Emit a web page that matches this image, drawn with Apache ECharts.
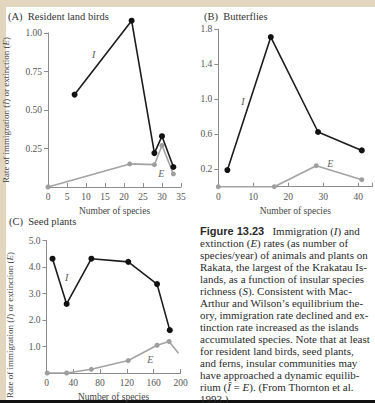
<!DOCTYPE html>
<html><head><meta charset="utf-8">
<script src="https://cdn.jsdelivr.net/npm/echarts@6/dist/echarts.min.js"></script>
<style>
html,body{margin:0;padding:0;background:#e3d6bf;width:375px;height:403px;overflow:hidden;position:relative;}
#paper{position:absolute;left:6px;top:7px;width:369px;height:393px;background:#fff;}
#bar{position:absolute;left:0;top:400px;width:375px;height:3px;background:#111;}
#c{position:absolute;left:0;top:0;width:375px;height:403px;}
</style>
</head><body><div id="paper"></div><div id="bar"></div><div id="c"></div>
<script>
// Panel A: resident land birds
const birdsIx = [7, 22, 28, 30, 33];
const birdsIy = [0.60, 1.08, 0.22, 0.33, 0.13];
const birdsEx = [0, 21.5, 28, 30, 33];
const birdsEy = [0, 0.15, 0.145, 0.27, 0.085];
const birdsYTicks = [0.25, 0.5, 0.75, 1.0];
// Panel B: butterflies
const butterIx = [2.6, 15, 28.5, 41];
const butterIy = [0.19, 1.71, 0.625, 0.415];
const butterEx = [0, 16, 28, 41];
const butterEy = [0, 0, 0.24, 0.08];
const butterYTicks = [0.2, 0.6, 1.0, 1.4, 1.8];
const butterXTicks = [0, 10, 20, 30, 40];
// Panel C: seed plants
const plantsIx = [9, 30, 67, 122, 165, 184];
const plantsIy = [4.32, 2.61, 4.32, 4.2, 3.36, 1.62];
const plantsEx = [1, 30, 67, 122, 165, 183, 197];
const plantsEy = [0, 0, 0.14, 0.47, 1.05, 1.19, 0.75];
const plantsYTicks = [1, 2, 3, 4, 5];

const captionLines = [
  '{b|Figure 13.23}   Immigration ({i|I}) and',
  'extinction ({i|E}) rates (as number of',
  'species/year) of animals and plants on',
  'Rakata, the largest of the Krakatau Is-',
  'lands, as a function of insular species',
  'richness ({i|S}). Consistent with Mac-',
  'Arthur and Wilson\u2019s equilibrium the-',
  'ory, immigration rate declined and ex-',
  'tinction rate increased as the islands',
  'accumulated species. Note that at least',
  'for resident land birds, seed plants,',
  'and ferns, insular communities may',
  'have approached a dynamic equilib-',
  'rium ({i|\u00CE} = {i|E}). (From Thornton et al.',
  '1993.)'
];

const SERIF = '"Liberation Serif", "DejaVu Serif", serif';
const zip = (xs, ys) => xs.map((x, i) => [x, ys[i]]);
const axisCol = '#8c8c8c';
const labelStyle = {fontFamily: SERIF, fontSize: 9.5, color: '#555'};
const italicRich = {i: {fontStyle: 'italic', fontFamily: SERIF, fontSize: 9, color: '#444'}};

function xAxis(gi, min, max, opts) {
  return Object.assign({
    type: 'value', gridIndex: gi, min: min, max: max,
    splitLine: {show: false},
    axisLine: {lineStyle: {color: axisCol, width: 1}},
    axisTick: {inside: true, length: 4, lineStyle: {color: axisCol}},
    axisLabel: Object.assign({margin: 5}, labelStyle),
    name: 'Number of species', nameLocation: 'middle', nameGap: 19,
    nameTextStyle: {fontFamily: SERIF, fontSize: 9.5, color: '#444'}
  }, opts || {});
}
function yAxis(gi, min, max, ticks, fmt, opts) {
  return Object.assign({
    type: 'value', gridIndex: gi, min: min, max: max,
    splitLine: {show: false},
    axisLine: {show: true, lineStyle: {color: axisCol, width: 1}},
    axisTick: {show: true, length: 4, customValues: ticks, lineStyle: {color: axisCol}},
    axisLabel: Object.assign({margin: 6, customValues: ticks, formatter: fmt}, labelStyle)
  }, opts || {});
}
function lineI(xi, yi, data, labelCoord) {
  return {
    type: 'line', xAxisIndex: xi, yAxisIndex: yi, data: data, clip: false,
    symbol: 'circle', symbolSize: 6, z: 4,
    lineStyle: {color: '#1c1c1c', width: 1.6},
    itemStyle: {color: '#111'},
    markPoint: {symbol: 'circle', symbolSize: 0, silent: true,
      label: {show: true, formatter: 'I', fontStyle: 'italic', fontFamily: SERIF, fontSize: 10, color: '#555'},
      data: [{coord: labelCoord}]}
  };
}
function lineE(xi, yi, data, labelCoord) {
  return {
    type: 'line', xAxisIndex: xi, yAxisIndex: yi, data: data, clip: false,
    symbol: 'circle', symbolSize: 5, z: 3,
    lineStyle: {color: '#a3a3a3', width: 1.6},
    itemStyle: {color: '#9e9e9e'},
    markPoint: {symbol: 'circle', symbolSize: 0, silent: true,
      label: {show: true, formatter: 'E', fontStyle: 'italic', fontFamily: SERIF, fontSize: 10, color: '#666'},
      data: [{coord: labelCoord}]}
  };
}

const plantsEdata = zip(plantsEx, plantsEy).map((p, i, a) =>
  i === a.length - 1 ? {value: p, symbol: 'none'} : p);

const graphics = [
  {type: 'text', x: 8, y: 16.5, style: {text: '(A)  Resident land birds', font: '10.5px ' + SERIF, fill: '#333', verticalAlign: 'middle'}},
  {type: 'text', x: 204, y: 16.5, style: {text: '(B)  Butterflies', font: '10.5px ' + SERIF, fill: '#333', verticalAlign: 'middle'}},
  {type: 'text', x: 9, y: 221, style: {text: '(C)  Seed plants', font: '10.5px ' + SERIF, fill: '#333', verticalAlign: 'middle'}},
  {type: 'text', x: 10, y: 325, rotation: Math.PI / 2,
    style: {text: 'Rate of immigration ({i|I}) or extinction ({i|E})', font: '9px ' + SERIF, fill: '#444',
      align: 'center', verticalAlign: 'middle', rich: italicRich}}
];
captionLines.forEach((t, i) => {
  graphics.push({type: 'text', x: 200, y: 231 + i * 12, style: {
    text: t, font: '11px ' + SERIF, fill: '#2a2a2a', verticalAlign: 'middle',
    rich: {
      b: {fontFamily: '"Liberation Sans", Arial, sans-serif', fontWeight: 'bold', fontSize: 11, color: '#111'},
      i: {fontStyle: 'italic', fontFamily: SERIF, fontSize: 11, color: '#2a2a2a'}
    }
  }});
});

const chart = echarts.init(document.getElementById('c'), null, {renderer: 'svg'});
chart.setOption({
  animation: false,
  backgroundColor: 'transparent',
  grid: [
    {left: 47.5, top: 33, width: 133.5, height: 154},
    {left: 218.3, top: 29.2, width: 154, height: 157.5},
    {left: 46.5, top: 240.7, width: 134, height: 136}
  ],
  xAxis: [
    xAxis(0, 0, 35, {interval: 5}),
    xAxis(1, 0, 44, {
      axisTick: {inside: true, length: 4, customValues: butterXTicks.concat([44]), lineStyle: {color: axisCol}},
      axisLabel: Object.assign({margin: 5, customValues: butterXTicks}, labelStyle)}),
    xAxis(2, 0, 200, {interval: 40})
  ],
  yAxis: [
    yAxis(0, 0, 1.0, birdsYTicks, v => v.toFixed(2), {
      name: 'Rate of immigration ({i|I}) or extinction ({i|E})', nameLocation: 'middle', nameGap: 38,
      nameTextStyle: {fontFamily: SERIF, fontSize: 9, color: '#444', rich: italicRich}}),
    yAxis(1, 0, 1.8, butterYTicks, v => v.toFixed(1)),
    yAxis(2, 0, 5, plantsYTicks, v => v.toFixed(1))
  ],
  graphic: graphics,
  series: [
    lineE(0, 0, zip(birdsEx, birdsEy), [29.8, 0.085]),
    lineI(0, 0, zip(birdsIx, birdsIy), [12, 0.86]),
    lineE(1, 1, zip(butterEx, butterEy), [32, 0.26]),
    lineI(1, 1, zip(butterIx, butterIy), [7, 0.97]),
    lineE(2, 2, plantsEdata, [155, 0.5]),
    lineI(2, 2, zip(plantsIx, plantsIy), [30, 3.6])
  ]
});
</script>
</body></html>
